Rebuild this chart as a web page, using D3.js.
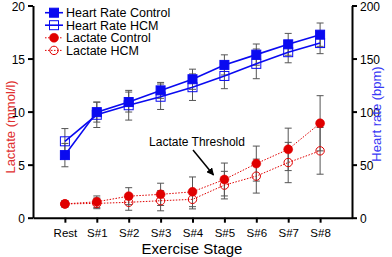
<!DOCTYPE html>
<html><head><meta charset="utf-8">
<script src="https://cdn.jsdelivr.net/npm/d3@7"></script>
<style>body{margin:0;background:#fff}svg{display:block}text{font-family:"Liberation Sans",Arial,sans-serif}</style>
</head><body><svg id="c" width="392" height="257"></svg>
<script>
const stages = ["Rest","S#1","S#2","S#3","S#4","S#5","S#6","S#7","S#8"];
const hrControl = [59, 99.5, 109, 120, 130.5, 144, 153.7, 163.4, 172.5];
const hrControlSD = [11, 9.4, 9.4, 7.5, 9.5, 9.5, 10, 10.3, 11];
const hrHCM = [72, 97, 106, 114, 123, 133.6, 145, 156, 164.6];
const hrHCMSD = [12, 12, 14, 12, 12.5, 12, 14, 10, 10];
const lacControl = [1.3, 1.5, 2.03, 2.2, 2.44, 3.6, 5.1, 6.44, 8.9];
const lacControlSD = [0.3, 0.55, 0.8, 1.05, 1.4, 1.55, 1.65, 2.0, 2.6];
const lacHCM = [1.3, 1.35, 1.45, 1.6, 1.73, 3.07, 3.92, 5.2, 6.3];
const lacHCMSD = [0.3, 0.5, 0.75, 0.95, 0.9, 1.3, 1.6, 1.9, 2.2];
const leftTicks = [0,5,10,15,20];
const rightTicks = [0,50,100,150,200];
const legendLabels = ["Heart Rate Control","Heart Rate HCM","Lactate Control","Lactate HCM"];

const svg = d3.select("#c");
const BLUE = "#0a0af0", RED = "#e00000", GRAY = "#555";
const x = d3.scalePoint().domain(stages).range([33, 352]).padding(1);
const yL = d3.scaleLinear().domain([0,20]).range([217.7, 5.5]);
const yR = d3.scaleLinear().domain([0,200]).range([217.7, 5.5]);

// axes
const gl = svg.append("g").attr("transform","translate(33,0)")
  .call(d3.axisLeft(yL).tickValues(leftTicks).tickSize(5).tickSizeOuter(0).tickPadding(3));
const gr = svg.append("g").attr("transform","translate(352,0)")
  .call(d3.axisRight(yR).tickValues(rightTicks).tickSize(5).tickSizeOuter(0).tickPadding(3));
const gx = svg.append("g").attr("transform","translate(0,217.7)")
  .call(d3.axisBottom(x).tickSize(5).tickSizeOuter(0).tickPadding(6));
[gl,gr,gx].forEach(g=>{
  g.selectAll("path.domain").attr("stroke","#000").attr("stroke-width",2);
  g.selectAll(".tick line").attr("stroke","#000").attr("stroke-width",2);
  g.selectAll(".tick text").attr("font-size",12).attr("fill","#000").attr("font-family","Liberation Sans, Arial");
});
gl.selectAll(".tick text").attr("dy","0.42em");
gr.selectAll(".tick text").attr("dy","0.42em");
gx.selectAll(".tick text").attr("font-size",11.5);

svg.append("text").attr("transform","translate(15,127) rotate(-90)").attr("text-anchor","middle")
  .attr("font-size",13).attr("fill","#e03030").text("Lactate (mmol/l)");
svg.append("text").attr("transform","translate(381,114) rotate(-90)").attr("text-anchor","middle")
  .attr("font-size",13).attr("fill","#3a3af5").text("Heart rate (bpm)");
svg.append("text").attr("x",192).attr("y",254).attr("text-anchor","middle")
  .attr("font-size",15).attr("fill","#000").text("Exercise Stage");

function errBars(vals, sds, y){
  const g = svg.append("g").attr("stroke",GRAY).attr("stroke-width",1).attr("fill","none");
  stages.forEach((s,i)=>{
    const cx = x(s), t = y(vals[i]+sds[i]), b = y(vals[i]-sds[i]);
    g.append("line").attr("x1",cx).attr("x2",cx).attr("y1",t).attr("y2",b);
    g.append("line").attr("x1",cx-3.5).attr("x2",cx+3.5).attr("y1",t).attr("y2",t);
    g.append("line").attr("x1",cx-3.5).attr("x2",cx+3.5).attr("y1",b).attr("y2",b);
  });
}
errBars(lacControl, lacControlSD, yL);
errBars(lacHCM, lacHCMSD, yL);
errBars(hrControl, hrControlSD, yR);
errBars(hrHCM, hrHCMSD, yR);

function line(vals, y, color, dash, w){
  svg.append("path").datum(vals)
    .attr("d", d3.line().x((d,i)=>x(stages[i])).y(d=>y(d)))
    .attr("fill","none").attr("stroke",color).attr("stroke-width",w)
    .attr("stroke-dasharray",dash);
}
line(lacHCM, yL, RED, "1.5,1.5", 1);
line(lacControl, yL, RED, "1.5,1.5", 1);
line(hrHCM, yR, BLUE, null, 1.6);
line(hrControl, yR, BLUE, null, 1.6);

function sq(g, cx, cy, filled){
  g.append("rect").attr("x",cx-4.5).attr("y",cy-4.5).attr("width",9).attr("height",9)
    .attr("fill",filled?BLUE:"none").attr("stroke",BLUE).attr("stroke-width",1);
}
function circ(g, cx, cy, filled){
  g.append("circle").attr("cx",cx).attr("cy",cy).attr("r",filled?4.5:4.2)
    .attr("fill",filled?RED:"none").attr("stroke",RED).attr("stroke-width",filled?0.5:1);
}
const mk = svg.append("g");
stages.forEach((s,i)=>{
  circ(mk, x(s), yL(lacHCM[i]), false);
  circ(mk, x(s), yL(lacControl[i]), true);
  sq(mk, x(s), yR(hrHCM[i]), false);
  sq(mk, x(s), yR(hrControl[i]), true);
});

// legend
const lg = svg.append("g");
const ly = [12.7, 25.2, 37.8, 50.4];
legendLabels.forEach((t,i)=>{
  const isHR = i<2, filled = i%2===0;
  lg.append("line").attr("x1",45).attr("x2",63).attr("y1",ly[i]).attr("y2",ly[i])
    .attr("stroke",isHR?BLUE:RED).attr("stroke-width",isHR?1.6:1)
    .attr("stroke-dasharray",isHR?null:"1.5,1.5");
  if(isHR) sq(lg,54,ly[i],filled); else circ(lg,54,ly[i],filled);
  lg.append("text").attr("x",66).attr("y",ly[i]+4.3).attr("font-size",12.5).attr("fill","#000").text(t);
});

// annotation
svg.append("defs").append("marker").attr("id","ah").attr("viewBox","0 0 10 10")
  .attr("refX",9).attr("refY",5).attr("markerWidth",5).attr("markerHeight",5).attr("orient","auto")
  .append("path").attr("d","M0,0L10,5L0,10z").attr("fill","#000");
svg.append("text").attr("x",197).attr("y",146).attr("text-anchor","middle")
  .attr("font-size",12).attr("fill","#000").text("Lactate Threshold");
svg.append("line").attr("x1",193).attr("y1",150).attr("x2",213.5).attr("y2",175)
  .attr("stroke","#000").attr("stroke-width",1.5).attr("marker-end","url(#ah)");
</script></body></html>
